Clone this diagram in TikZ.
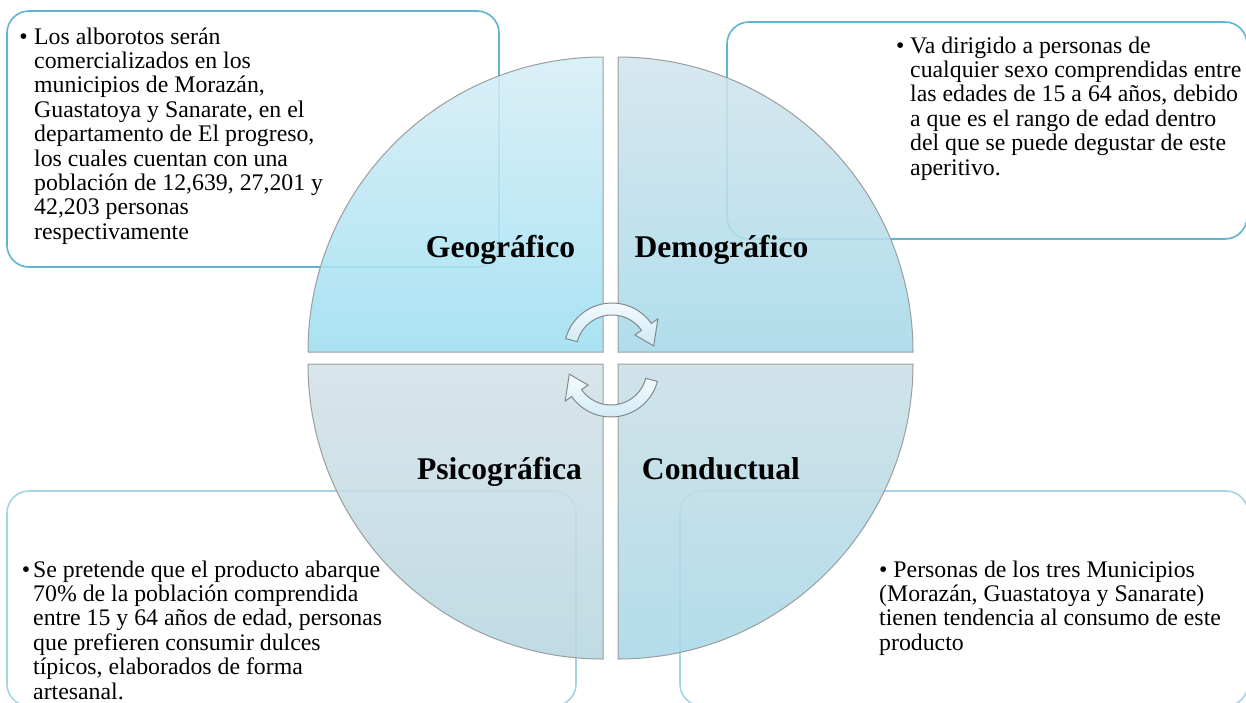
\documentclass[tikz,border=0pt]{standalone}
\usepackage{fontspec}
\setmainfont{Liberation Serif}
\definecolor{tlTop}{HTML}{D7EEF6}
\definecolor{tlBot}{HTML}{9EDFF2}
\definecolor{trTop}{HTML}{D2E5ED}
\definecolor{trBot}{HTML}{A6D9EA}
\definecolor{blTop}{HTML}{D4E2E8}
\definecolor{blBot}{HTML}{B8D7E1}
\definecolor{brTop}{HTML}{CBDFE7}
\definecolor{brBot}{HTML}{A9D8E8}
\definecolor{quadline}{HTML}{9A9EA0}
\definecolor{boxdark}{HTML}{5DB5CF}
\definecolor{boxlight}{HTML}{A3D5E5}
\definecolor{arrTop}{HTML}{F8FCFE}
\definecolor{arrBot}{HTML}{CDE9F5}
\definecolor{arrLine}{HTML}{80898D}
\newcommand{\bodytxt}[2]{\parbox[t]{#1}{\fontsize{23.8}{24.4}\selectfont\raggedright\leavevmode #2}}
\begin{document}
\begin{tikzpicture}[x=1pt,y=1pt,
  tbox/.style={draw=#1, line width=1.6pt, rounded corners=22pt, inner sep=0pt},
  quad/.style={draw=quadline, line width=1pt, fill opacity=0.88},
  cyclearrow/.style={draw=arrLine, line width=1pt, top color=arrTop, bottom color=arrBot},
  lbl/.style={font=\fontsize{31.6}{34}\selectfont\bfseries, inner sep=0pt, anchor=base},
  txt/.style={inner sep=0pt, anchor=base west}]
\useasboundingbox (0,0) rectangle (1246,-702);
\fill[white] (0,0) rectangle (1246,-702);
% text boxes
\node[tbox=boxdark, minimum width=492pt, minimum height=256pt] (geobox) at (253,-139) {};
\node[tbox=boxdark, minimum width=520pt, minimum height=217pt] (demobox) at (987,-130.5) {};
\node[tbox=boxlight, minimum width=569pt, minimum height=215pt] (psicobox) at (291.5,-598.5) {};
\node[tbox=boxlight, minimum width=568pt, minimum height=215pt] (condbox) at (964,-598.5) {};
% quadrants
\shadedraw[quad, top color=tlTop, bottom color=tlBot] (603,-352) -- (308,-352) arc[start angle=180, end angle=90, radius=295] -- cycle;
\shadedraw[quad, top color=trTop, bottom color=trBot] (618,-352) -- (618,-57) arc[start angle=90, end angle=0, radius=295] -- cycle;
\shadedraw[quad, top color=blTop, bottom color=blBot] (603,-364) -- (603,-659) arc[start angle=270, end angle=180, radius=295] -- cycle;
\shadedraw[quad, top color=brTop, bottom color=brBot] (618,-364) -- (913,-364) arc[start angle=0, end angle=-90, radius=295] -- cycle;
% cycle arrows
\begin{scope}[shift={(612,-351)}]
\path[cyclearrow] (165:48) arc[start angle=165, end angle=35, radius=48] -- (35:56) -- (7:42) -- (35:28) -- (35:36) arc[start angle=35, end angle=165, radius=36] -- cycle;
\end{scope}
\begin{scope}[shift={(611,-369)}, rotate=180]
\path[cyclearrow] (165:48) arc[start angle=165, end angle=35, radius=48] -- (35:56) -- (7:42) -- (35:28) -- (35:36) arc[start angle=35, end angle=165, radius=36] -- cycle;
\end{scope}
% labels
\node[lbl] (geo) at (500.5,-257) {Geográfico};
\node[lbl] (demo) at (721.5,-257) {Demográfico};
\node[lbl] (psico) at (499.5,-479) {Psicográfica};
\node[lbl] (cond) at (721,-479) {Conductual};
% texts
\node[txt] (geotxt) at (34,-44) {\bodytxt{460pt}{\llap{•\hspace{6.5pt}}Los alborotos serán\\
comercializados en los\\
municipios de Morazán,\\
Guastatoya y Sanarate, en el\\
departamento de El progreso,\\
los cuales cuentan con una\\
población de 12,639, 27,201 y\\
42,203 personas\\
respectivamente}};
\node[txt] (demotxt) at (910,-53) {\bodytxt{400pt}{\llap{•\hspace{5.8pt}}Va dirigido a personas de\\
cualquier sexo comprendidas entre\\
las edades de 15 a 64 años, debido\\
a que es el rango de edad dentro\\
del que se puede degustar de este\\
aperitivo.}};
\node[txt] (psicotxt) at (33,-577) {\bodytxt{460pt}{\llap{•\hspace{3pt}}Se pretende que el producto abarque\\
70\% de la población comprendida\\
entre 15 y 64 años de edad, personas\\
que prefieren consumir dulces\\
típicos, elaborados de forma\\
artesanal.}};
\node[txt] (condtxt) at (879,-577) {\bodytxt{400pt}{• Personas de los tres Municipios\\
(Morazán, Guastatoya y Sanarate)\\
tienen tendencia al consumo de este\\
producto}};
\end{tikzpicture}
\end{document}
